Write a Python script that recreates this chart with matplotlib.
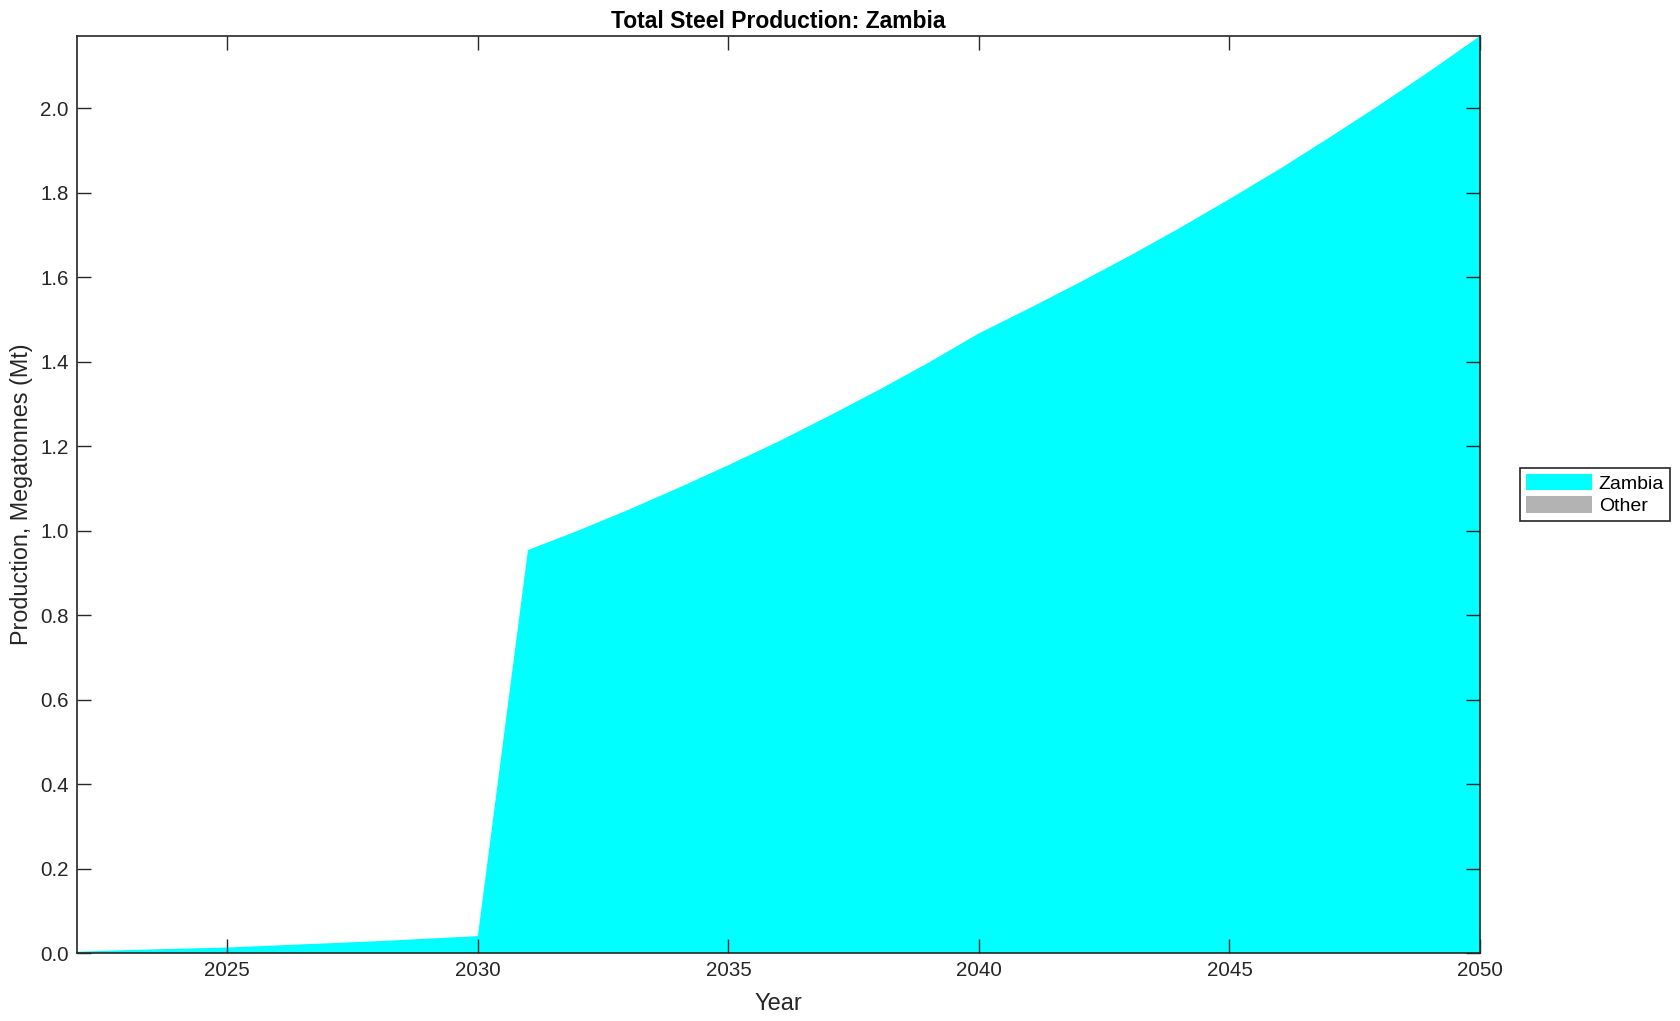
import matplotlib.pyplot as plt
import numpy as np

plt.rcParams['font.family'] = ['Liberation Sans', 'DejaVu Sans']

years = np.arange(2022, 2051)
zambia = [0.003, 0.007, 0.010, 0.013, 0.018, 0.023, 0.028, 0.034, 0.040,
          0.954, 1.000, 1.049, 1.101, 1.155, 1.211, 1.271, 1.333, 1.398, 1.467,
          1.526, 1.587, 1.650, 1.716, 1.785, 1.856, 1.931, 2.008, 2.088, 2.171]
other = [0.0] * len(years)
labels = ['Zambia', 'Other']
colors = ['#00ffff', '#b3b3b3']

dark = '#262626'

fig = plt.figure(figsize=(16.8, 10.21), dpi=100)
ax = fig.add_axes([77 / 1680, 1 - 953 / 1021, (1480 - 77) / 1680, (953 - 36) / 1021])

polys = ax.stackplot(years, zambia, other, colors=colors, labels=labels,
                     edgecolor='none', linewidth=0)

ax.set_xlim(2022, 2050)
ax.set_ylim(0, max(zambia))
ax.set_xticks([2025, 2030, 2035, 2040, 2045, 2050])
ax.set_yticks(np.arange(0, 2.01, 0.2))
ax.yaxis.set_major_formatter(plt.FormatStrFormatter('%.1f'))

ax.tick_params(direction='in', length=10, width=1, colors=dark, labelsize=14.8,
               top=True, right=True, pad=6)
for s in ax.spines.values():
    s.set_color(dark)
    s.set_linewidth(1.2)
    s.set_zorder(5)

ax.set_title('Total Steel Production: Zambia', fontsize=16.5, fontweight='bold',
             color='black', pad=6)
ax.set_xlabel('Year', fontsize=17, color=dark, labelpad=9)
ax.set_ylabel('Production, Megatonnes (Mt)', fontsize=16.8, color=dark, labelpad=5)

leg = fig.legend(handles=polys, labels=labels, loc='center left',
                 bbox_to_anchor=(1520 / 1680, 1 - 494.5 / 1021),
                 fontsize=14, frameon=True, fancybox=False, framealpha=1,
                 handlelength=3.4, handleheight=0.9, handletextpad=0.35,
                 borderpad=0.3, labelspacing=0.2, borderaxespad=0)
leg.get_frame().set_edgecolor(dark)
leg.get_frame().set_linewidth(1.2)

fig.savefig('out.png', dpi=100)
